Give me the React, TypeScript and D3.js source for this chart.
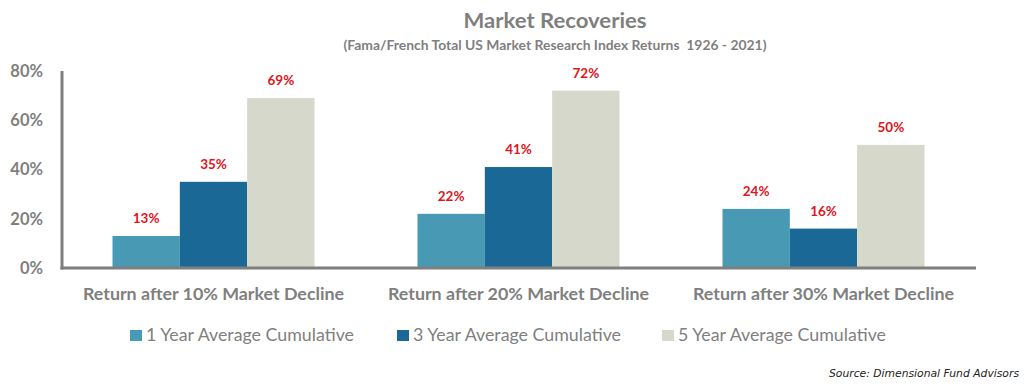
import React from "react";
import * as d3 from "d3";

const categories = [
  "Return after 10% Market Decline",
  "Return after 20% Market Decline",
  "Return after 30% Market Decline",
];
const seriesNames = [
  "1 Year Average Cumulative",
  "3 Year Average Cumulative",
  "5 Year Average Cumulative",
];
const oneYear = [13, 22, 24];
const threeYear = [35, 41, 16];
const fiveYear = [69, 72, 50];
const yTicks = [0, 20, 40, 60, 80];
const colors = ["#4899b3", "#1a6895", "#d5d8ca"];

const W = 1024;
const H = 392;
const GRAY = "#7f7f7f";
const RED = "#e0141c";
const FONT = "Lato, 'Open Sans', sans-serif";

export default function App() {
  const series = [oneYear, threeYear, fiveYear];
  const x0 = d3.scaleBand<string>().domain(categories).range([61, 976]).paddingInner(0).paddingOuter(0);
  const x1 = d3
    .scaleBand<string>()
    .domain(seriesNames)
    .range([51.5, x0.bandwidth() - 51.5])
    .padding(0);
  const y = d3.scaleLinear().domain([0, 80]).range([268, 71]);

  return (
    <svg
      width={W}
      height={H}
      style={{ position: "absolute", left: 0, top: 0, background: "#fff" }}
      fontFamily={FONT}
    >
      <text x={555} y={28} textAnchor="middle" fill={GRAY} fontSize={21} fontWeight={700} textLength={183} lengthAdjust="spacingAndGlyphs">
        Market Recoveries
      </text>
      <text x={555} y={50} textAnchor="middle" fill={GRAY} fontSize={12.5} fontWeight={700} textLength={423} lengthAdjust="spacingAndGlyphs" xmlSpace="preserve" style={{ whiteSpace: "pre" }}>
        {"(Fama/French Total US Market Research Index Returns  1926 - 2021)"}
      </text>

      {yTicks.map((t) => (
        <text key={t} x={43} y={y(t)} dy="0.36em" textAnchor="end" fill={GRAY} fontSize={16.5} fontWeight={700}>
          {t}%
        </text>
      ))}

      {categories.map((c, ci) => (
        <g key={c} transform={`translate(${x0(c)},0)`}>
          {seriesNames.map((s, si) => {
            const v = series[si][ci];
            const bx = x1(s)!;
            return (
              <g key={s}>
                <rect x={bx} y={y(v)} width={x1.bandwidth()} height={y(0) - y(v)} fill={colors[si]} />
                <text
                  x={bx + x1.bandwidth() / 2}
                  y={y(v) - 13}
                  textAnchor="middle"
                  fill={RED}
                  fontSize={13.5}
                  fontWeight={700}
                >
                  {v}%
                </text>
              </g>
            );
          })}
          <text
            x={x0.bandwidth() / 2}
            y={299.5}
            textAnchor="middle"
            fill={GRAY}
            fontSize={17.5}
            fontWeight={700}
            textLength={261}
            lengthAdjust="spacingAndGlyphs"
          >
            {c}
          </text>
        </g>
      ))}

      <line x1={62} x2={62} y1={71} y2={269.5} stroke={GRAY} strokeWidth={3} />
      <line x1={60.5} x2={976} y1={268} y2={268} stroke={GRAY} strokeWidth={3} />

      {seriesNames.map((s, i) => {
        const lx = [130, 397, 662][i];
        return (
          <g key={s}>
            <rect x={lx} y={330} width={12} height={11} fill={colors[i]} />
            <text x={lx + 16} y={341} fill={GRAY} fontSize={16.5} textLength={208} lengthAdjust="spacingAndGlyphs">
              {s}
            </text>
          </g>
        );
      })}

      <text x={1019} y={377} textAnchor="end" fill="#222" fontSize={10.5} fontStyle="italic" fontFamily="'DejaVu Sans', Verdana, sans-serif" textLength={190} lengthAdjust="spacingAndGlyphs">
        Source: Dimensional Fund Advisors
      </text>
    </svg>
  );
}
